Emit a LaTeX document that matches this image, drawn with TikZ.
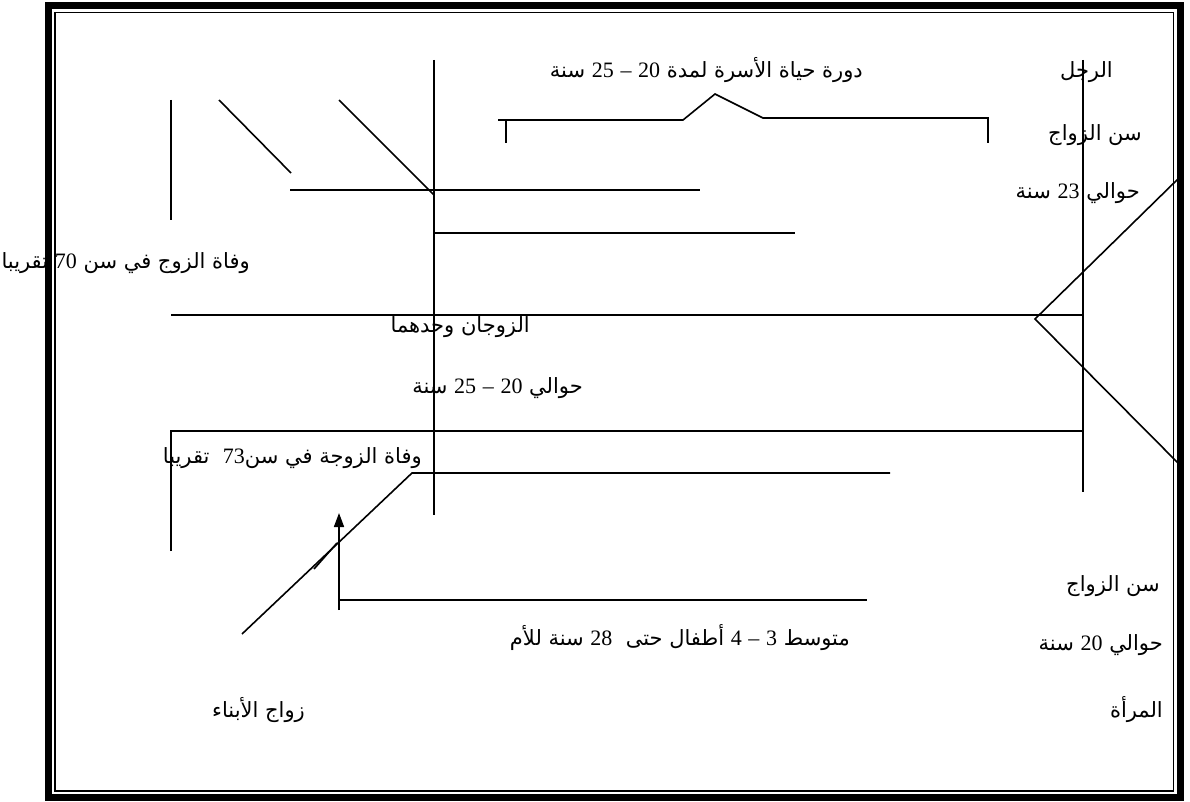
\documentclass[tikz,border=0pt]{standalone}
\usepackage{fontspec}
\usetikzlibrary{arrows.meta}
\TeXXeTstate=1
\newfontfamily\arabicfont[Script=Arabic]{DejaVu Sans}
\newfontfamily\numfont{Liberation Serif}
\newcommand{\N}[1]{{\numfont\fontsize{22}{24}\selectfont #1}}
\tikzset{
  lbl/.style={inner sep=0pt, anchor=east, font=\arabicfont\fontsize{21}{24}\selectfont},
  ln/.style={line width=1.6pt, line cap=butt},
}
\begin{document}
\begin{tikzpicture}[x=1pt,y=-1pt]
\useasboundingbox (0,0) rectangle (1190,802);
\fill[white] (0,0) rectangle (1190,802);

% ---- key points of the life-cycle lines
\coordinate (manTop) at (1083,60);
\coordinate (manBot) at (1083,492);
\coordinate (midTop) at (434,60);
\coordinate (midBot) at (434,515);

% main vertical axes
\draw[ln] (manTop) -- (manBot);
\draw[ln] (midTop) -- (midBot);

% upper-left strokes
\draw[ln] (171,100) -- (171,220);
\draw[ln] (219,100) -- (291,173);
\draw[ln] (339,100) -- (434,195);
\draw[ln] (290,190) -- (700,190);
\draw[ln] (434,233) -- (795,233);

% family life-cycle bracket
\draw[ln] (506,143) -- (506,120);
\draw[ln] (498,120) -- (683,120) -- (715,94) -- (763,118) -- (988,118) -- (988,143);

% couple line and wedge
\draw[ln] (171,315) -- (1083,315);
\draw[ln] (1180,177) -- (1035,319) -- (1180,465);

% wife line
\draw[ln] (171,551) -- (171,431) -- (1083,431);
\draw[ln] (242,634) -- (412,473) -- (890,473);
\draw[ln] (314,569) -- (337,543);

% children line with arrow
\coordinate (arrFoot) at (339,610);
\coordinate (arrTip) at (339,513);
\draw[ln, -{Triangle[length=14pt,width=10pt]}] (arrFoot) -- (arrTip);
\draw[ln] (339,600) -- (867,600);

% ---- labels
\node[lbl] (man) at (1113,72) {\beginR الرجل\endR};
\node[lbl] (manAge) at (1142,135) {\beginR سن الزواج\endR};
\node[lbl] (manYears) at (1140,193) {\beginR حوالي \N{23} سنة\endR};
\node[lbl] (cycle) at (863,70) {\beginR دورة حياة الأسرة لمدة \N{20} \N{–} \N{25} سنة\endR};
\node[lbl] (husbandDeath) at (250,263) {\beginR وفاة الزوج في سن \N{70} تقريبا\endR};
\node[lbl] (alone) at (530,327) {\beginR الزوجان وحدهما\endR};
\node[lbl] (aloneYears) at (583,388) {\beginR حوالي \N{20} \N{–} \N{25} سنة\endR};
\node[lbl] (wifeDeath) at (422,458) {\beginR وفاة الزوجة في سن\kern0pt\N{73}\ \ تقريبا\endR};
\node[lbl] (womanAge) at (1160,586) {\beginR سن الزواج\endR};
\node[lbl] (womanYears) at (1163,645) {\beginR حوالي \N{20} سنة\endR};
\node[lbl] (woman) at (1163,710) {\beginR المرأة\endR};
\node[lbl] (children) at (850,638) {\beginR متوسط \N{3} \N{–} \N{4} أطفال حتى\ \ \N{28} سنة للأم\endR};
\node[lbl] (kidsMarry) at (305,710) {\beginR زواج الأبناء\endR};

% ---- double frame
\draw[line width=7pt] (48.5,5.5) rectangle (1180.5,797.5);
\draw[line width=1.5pt] (55,12.5) rectangle (1173.5,791);
\end{tikzpicture}
\end{document}
